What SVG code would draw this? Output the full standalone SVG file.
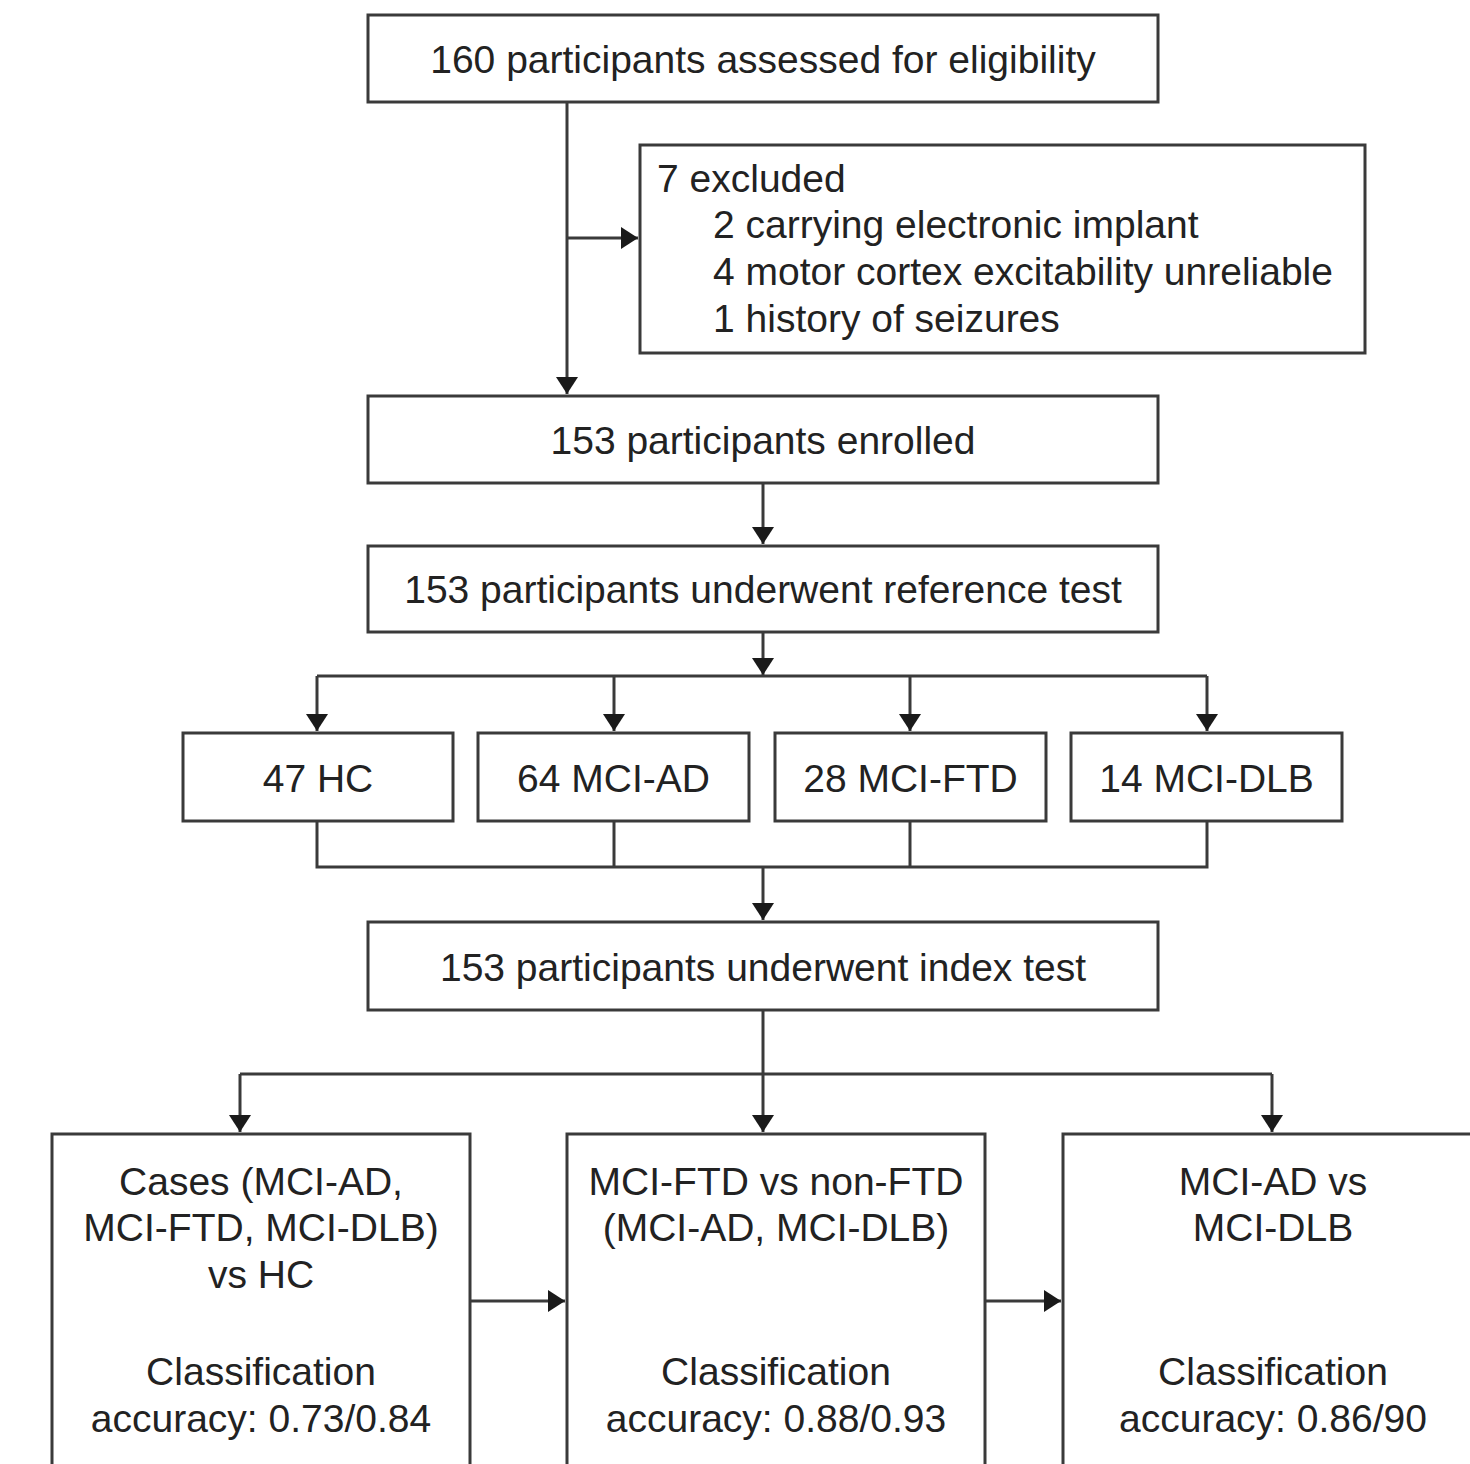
<svg xmlns="http://www.w3.org/2000/svg" width="1470" height="1464" viewBox="0 0 1470 1464">
<defs>
<style>
.box{fill:#fff;stroke:#3a3a3a;stroke-width:3}
.ln{fill:none;stroke:#3a3a3a;stroke-width:3}
.t{font-family:"Liberation Sans",Arial,sans-serif;font-size:39px;fill:#222}
.c{text-anchor:middle}
</style>
<marker id="ah" markerUnits="userSpaceOnUse" viewBox="0 0 17 22" markerWidth="17" markerHeight="22" refX="17" refY="11" orient="auto">
<path d="M0,0 L17,11 L0,22 z" fill="#1a1a1a"/>
</marker>
</defs>
<rect width="1470" height="1464" fill="#fff"/>
<g id="connectors">
<path class="ln" d="M567,102 V394" marker-end="url(#ah)"/>
<path class="ln" d="M567,238 H638" marker-end="url(#ah)"/>
<path class="ln" d="M763,483 V544" marker-end="url(#ah)"/>
<path class="ln" d="M763,632 V675" marker-end="url(#ah)"/>
<path class="ln" d="M317,676 H1207"/>
<path class="ln" d="M317,676 V731" marker-end="url(#ah)"/>
<path class="ln" d="M614,676 V731" marker-end="url(#ah)"/>
<path class="ln" d="M910,676 V731" marker-end="url(#ah)"/>
<path class="ln" d="M1207,676 V731" marker-end="url(#ah)"/>
<path class="ln" d="M317,822 V867 H1207 V822"/>
<path class="ln" d="M614,822 V867"/>
<path class="ln" d="M910,822 V867"/>
<path class="ln" d="M763,867 V920" marker-end="url(#ah)"/>
<path class="ln" d="M763,1010 V1132" marker-end="url(#ah)"/>
<path class="ln" d="M240,1074 H1272"/>
<path class="ln" d="M240,1074 V1132" marker-end="url(#ah)"/>
<path class="ln" d="M1272,1074 V1132" marker-end="url(#ah)"/>
<path class="ln" d="M470,1301 H565" marker-end="url(#ah)"/>
<path class="ln" d="M985,1301 H1061" marker-end="url(#ah)"/>
</g>
<g id="n-assessed">
<rect class="box" x="368" y="15" width="790" height="87"/>
<text class="t c" x="763" y="73">160 participants assessed for eligibility</text>
</g>
<g id="n-excluded">
<rect class="box" x="640" y="145" width="725" height="208"/>
<text class="t" x="657" y="192">7 excluded</text>
<text class="t" x="713" y="238">2 carrying electronic implant</text>
<text class="t" x="713" y="285">4 motor cortex excitability unreliable</text>
<text class="t" x="713" y="332">1 history of seizures</text>
</g>
<g id="n-enrolled">
<rect class="box" x="368" y="396" width="790" height="87"/>
<text class="t c" x="763" y="454">153 participants enrolled</text>
</g>
<g id="n-reference">
<rect class="box" x="368" y="546" width="790" height="86"/>
<text class="t c" x="763" y="603">153 participants underwent reference test</text>
</g>
<g id="n-hc">
<rect class="box" x="183" y="733" width="270" height="88"/>
<text class="t c" x="318" y="792">47 HC</text>
</g>
<g id="n-mciad">
<rect class="box" x="478" y="733" width="271" height="88"/>
<text class="t c" x="613.5" y="792">64 MCI-AD</text>
</g>
<g id="n-mciftd">
<rect class="box" x="775" y="733" width="271" height="88"/>
<text class="t c" x="910.5" y="792">28 MCI-FTD</text>
</g>
<g id="n-mcidlb">
<rect class="box" x="1071" y="733" width="271" height="88"/>
<text class="t c" x="1206.5" y="792">14 MCI-DLB</text>
</g>
<g id="n-index">
<rect class="box" x="368" y="922" width="790" height="88"/>
<text class="t c" x="763" y="981">153 participants underwent index test</text>
</g>
<g id="n-cases">
<rect class="box" x="52" y="1134" width="418" height="360"/>
<text class="t c" x="261" y="1195">Cases (MCI-AD,</text>
<text class="t c" x="261" y="1241">MCI-FTD, MCI-DLB)</text>
<text class="t c" x="261" y="1288">vs HC</text>
<text class="t c" x="261" y="1385">Classification</text>
<text class="t c" x="261" y="1432">accuracy: 0.73/0.84</text>
</g>
<g id="n-ftd">
<rect class="box" x="567" y="1134" width="418" height="360"/>
<text class="t c" x="776" y="1195">MCI-FTD vs non-FTD</text>
<text class="t c" x="776" y="1241">(MCI-AD, MCI-DLB)</text>
<text class="t c" x="776" y="1385">Classification</text>
<text class="t c" x="776" y="1432">accuracy: 0.88/0.93</text>
</g>
<g id="n-addlb">
<rect class="box" x="1063" y="1134" width="420" height="360"/>
<text class="t c" x="1273" y="1195">MCI-AD vs</text>
<text class="t c" x="1273" y="1241">MCI-DLB</text>
<text class="t c" x="1273" y="1385">Classification</text>
<text class="t c" x="1273" y="1432">accuracy: 0.86/90</text>
</g>
</svg>
